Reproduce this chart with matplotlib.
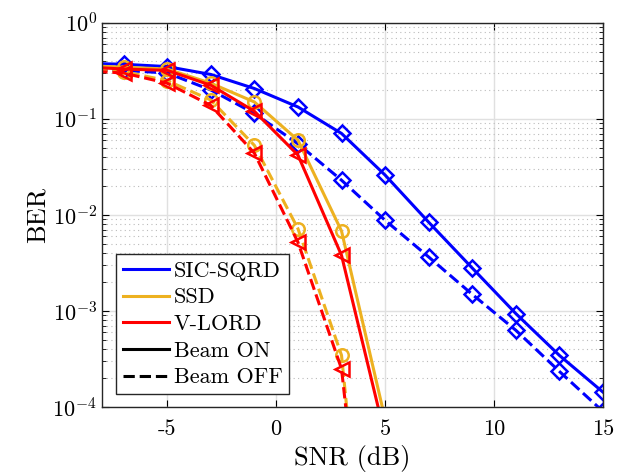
import matplotlib
matplotlib.use('Agg')
import matplotlib.pyplot as plt
from matplotlib.lines import Line2D
from matplotlib.ticker import LogLocator, FixedLocator, FixedFormatter, NullFormatter

plt.rcParams['font.family'] = 'serif'
plt.rcParams['font.serif'] = ['cmr10']
plt.rcParams['mathtext.fontset'] = 'cm'
plt.rcParams['axes.unicode_minus'] = False
plt.rcParams['axes.formatter.use_mathtext'] = True

# SNR points (markers every 2 dB), -9 only sets the line at the left edge
snr = [-9, -7, -5, -3, -1, 1, 3, 5, 7, 9, 11, 13, 15]

sic_on = [0.38, 0.37, 0.35, 0.29, 0.207, 0.133, 0.0705, 0.026, 0.0084, 0.0028, 9.4e-4, 3.45e-4, 1.43e-4]
sic_off = [0.33, 0.32, 0.30, 0.20, 0.114, 0.055, 0.023, 0.0088, 0.00365, 0.00149, 6.3e-4, 2.35e-4, 9e-5]

ssd_snr = [-9, -7, -5, -3, -1, 1, 3, 5]
ssd_on = [0.36, 0.345, 0.33, 0.235, 0.15, 0.06, 0.0068, 7.5e-5]
ssd_off = [0.33, 0.31, 0.25, 0.157, 0.053, 0.0072, 3.46e-4, 1e-8]

vlord_on = [0.35, 0.33, 0.32, 0.224, 0.12, 0.042, 0.0038, 5e-5]
vlord_off = [0.32, 0.30, 0.235, 0.138, 0.044, 0.0052, 2.5e-4, 2e-8]

blue = '#0000ff'
orange = '#edb120'
red = '#ff0000'

fig = plt.figure(figsize=(6.21, 4.75), dpi=100)
ax = fig.add_axes([0.164, 0.143, 0.807, 0.809])

lw = 2.2
ms = 8
mew = 1.8
ax.plot(snr, sic_on, '-', color=blue, lw=lw, marker='D', ms=ms, mfc='none', mew=mew)
ax.plot(snr, sic_off, '--', color=blue, lw=lw, marker='D', ms=ms, mfc='none', mew=mew)
ax.plot(ssd_snr, ssd_on, '-', color=orange, lw=lw, marker='o', ms=ms + 1, mfc='none', mew=mew)
ax.plot(ssd_snr, ssd_off, '--', color=orange, lw=lw, marker='o', ms=ms + 1, mfc='none', mew=mew)
ax.plot(ssd_snr, vlord_on, '-', color=red, lw=lw, marker='<', ms=ms + 2, mfc='none', mew=mew)
ax.plot(ssd_snr, vlord_off, '--', color=red, lw=lw, marker='<', ms=ms + 2, mfc='none', mew=mew)

ax.set_yscale('log')
ax.set_xlim(-8, 15)
ax.set_ylim(1e-4, 1)

ax.xaxis.set_major_locator(FixedLocator([-5, 0, 5, 10, 15]))
ax.xaxis.set_major_formatter(FixedFormatter(['-5', '0', '5', '10', '15']))
ax.yaxis.set_major_locator(LogLocator(base=10, numticks=10))
ax.yaxis.set_minor_locator(LogLocator(base=10, subs=range(2, 10), numticks=20))
ax.yaxis.set_minor_formatter(NullFormatter())

ax.tick_params(which='both', direction='in', top=True, right=True, labelsize=16)
ax.tick_params(axis='x', which='major', pad=9)
ax.tick_params(which='major', length=5)
ax.tick_params(which='minor', length=3)

ax.grid(True, which='major', color='#e0e0e0', lw=1)
ax.grid(True, which='minor', axis='y', color='#bbbbbb', lw=0.8, ls=(0, (1, 3)))
ax.set_axisbelow(True)
for s in ax.spines.values():
    s.set_color('#262626')
    s.set_linewidth(1)

ax.set_xlabel('SNR (dB)', fontsize=19, labelpad=4)
ax.set_ylabel('BER', fontsize=19, labelpad=2)

handles = [
    Line2D([], [], color=blue, lw=lw),
    Line2D([], [], color=orange, lw=lw),
    Line2D([], [], color=red, lw=lw),
    Line2D([], [], color='black', lw=lw),
    Line2D([], [], color='black', lw=lw, ls='--'),
]
labels = ['SIC-SQRD', 'SSD', 'V-LORD', 'Beam ON', 'Beam OFF']
leg = ax.legend(handles, labels, loc='lower left', bbox_to_anchor=(0.028, 0.034),
                borderaxespad=0, fontsize=16, fancybox=False, framealpha=1,
                edgecolor='#262626', handlelength=2.1, handletextpad=0.2,
                labelspacing=0.32, borderpad=0.3)
leg.get_frame().set_linewidth(1)

fig.savefig('out.png', dpi=100)
